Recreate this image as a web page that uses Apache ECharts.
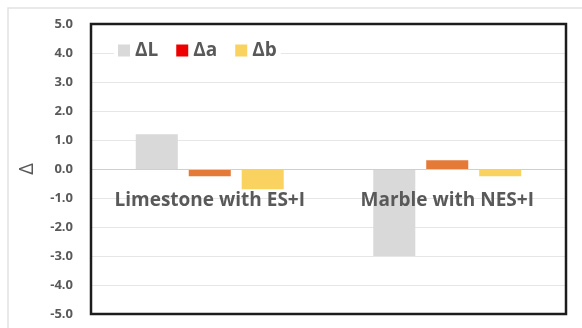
<!DOCTYPE html>
<html>
<head>
<meta charset="utf-8">
<script src="https://cdn.jsdelivr.net/npm/echarts@6/dist/echarts.min.js"></script>
<style>
  html, body { margin: 0; padding: 0; background: #fff; }
  #chart { width: 582px; height: 328px; }
</style>
</head>
<body>
<div id="chart"></div>
<script>
// Colour differences per sample
const categories = ['Limestone with ES+I', 'Marble with NES+I'];
const seriesNames = ['ΔL', 'Δa', 'Δb'];
const deltaL = [1.2, -3.0];
const deltaA = [-0.25, 0.3];
const deltaB = [-0.7, -0.25];
const yMin = -5, yMax = 5, yStep = 1;

const textGray = '#595959';
const font = 'Open Sans';

// grid geometry; the category axis sits on the zero line (middle of the symmetric range)
const gridTop = 24, gridBottom = 14, chartHeight = 328;
const zeroOffset = -((chartHeight - gridTop - gridBottom) * (0 - yMin) / (yMax - yMin));

const chart = echarts.init(document.getElementById('chart'));
chart.setOption({
  animation: false,
  backgroundColor: '#fff',
  graphic: [{
    type: 'rect',
    shape: { x: 8, y: 8, width: 600, height: 360 },
    style: { fill: 'none', stroke: '#e2e2e2', lineWidth: 1.5 },
    z: -1
  }],
  grid: {
    left: 91, top: gridTop, right: 16, bottom: gridBottom,
    outerBoundsMode: 'none',
    containLabel: false,
    show: true, borderColor: '#1c1c1c', borderWidth: 2.5,
    backgroundColor: 'transparent', z: 10
  },
  legend: {
    left: 114, top: 39,
    itemWidth: 12, itemHeight: 12, itemGap: 18,
    backgroundColor: '#fff', padding: [2, 4],
    textStyle: { fontFamily: font, fontSize: 19, fontWeight: 'bold', color: textGray },
    data: [
      { name: 'ΔL', icon: 'rect' },
      { name: 'Δa', icon: 'rect', itemStyle: { color: '#EE0000' } },
      { name: 'Δb', icon: 'rect' }
    ]
  },
  xAxis: {
    type: 'category',
    data: categories,
    position: 'bottom',
    offset: zeroOffset,
    z: 5,
    axisLine: { onZero: false, lineStyle: { color: '#cfcfcf', width: 1 } },
    axisTick: { show: false },
    axisLabel: {
      interval: 0, hideOverlap: false,
      margin: 22, fontFamily: font, fontSize: 19, fontWeight: 'bold', color: textGray
    }
  },
  yAxis: {
    type: 'value',
    min: yMin, max: yMax, interval: yStep,
    name: 'Δ',
    nameLocation: 'middle',
    nameRotate: 90,
    nameGap: 54,
    nameTextStyle: { fontFamily: font, fontSize: 20, color: textGray },
    axisLine: { show: false },
    axisTick: { show: false },
    splitLine: { lineStyle: { color: '#e6e6e6', width: 1 } },
    axisLabel: {
      margin: 18,
      fontFamily: font, fontSize: 13, fontWeight: 'bold', color: textGray,
      formatter: v => v.toFixed(1)
    }
  },
  series: [
    { name: seriesNames[0], type: 'bar', data: deltaL, itemStyle: { color: '#D9D9D9' },
      barGap: '26%', barCategoryGap: '37.7%' },
    { name: seriesNames[1], type: 'bar', data: deltaA, itemStyle: { color: '#E47A38' } },
    { name: seriesNames[2], type: 'bar', data: deltaB, itemStyle: { color: '#FAD25F' } }
  ]
});
</script>
</body>
</html>
